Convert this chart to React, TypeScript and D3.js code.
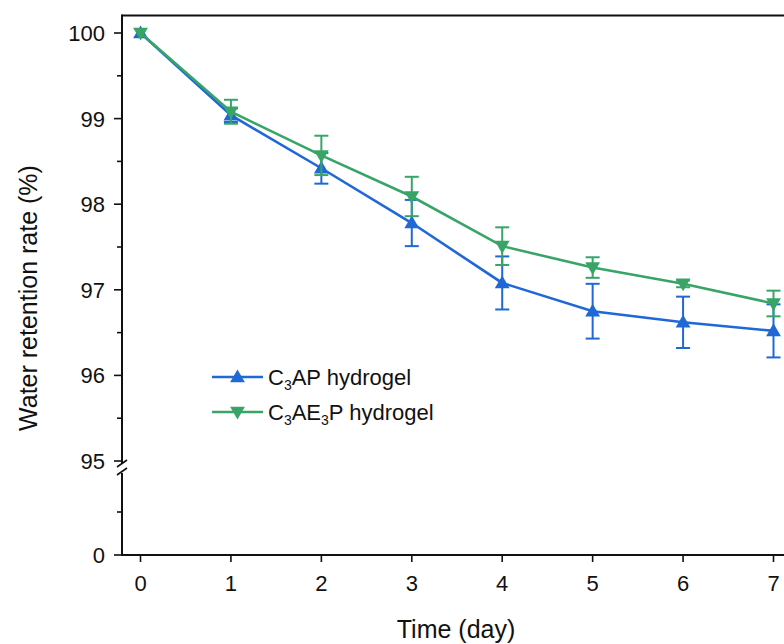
import React from "react";
import * as d3 from "d3";

const days = [0, 1, 2, 3, 4, 5, 6, 7];
const c3apValues = [100, 99.04, 98.42, 97.78, 97.08, 96.75, 96.62, 96.52];
const c3apErrors = [0, 0.08, 0.18, 0.27, 0.31, 0.32, 0.3, 0.31];
const c3ae3pValues = [100, 99.08, 98.57, 98.09, 97.51, 97.26, 97.07, 96.84];
const c3ae3pErrors = [0, 0.14, 0.23, 0.23, 0.22, 0.12, 0.04, 0.15];
const upperTicks = [95, 96, 97, 98, 99, 100];
const upperMinor = [95.5, 96.5, 97.5, 98.5, 99.5];
const lowerTicks = [0];
const lowerMinor = [1];

const W = 784;
const H = 644;
const BLUE = "#1f68d6";
const GREEN = "#38a567";
const FONT = "'Liberation Sans', Arial, sans-serif";
const TICK_FS = 22;
const TITLE_FS = 25;

export default function App() {
  const x = d3.scaleLinear().domain([0, 7]).range([140.5, 773.5]);
  const yU = d3.scaleLinear().domain([95, 100]).range([461, 33]);
  const yL = d3.scaleLinear().domain([0, 2]).range([555, 469]);
  const axisX = 122;
  const top = 15.5;
  const bottom = 555;

  const line = d3
    .line<number>()
    .x((_, i) => x(days[i]))
    .y((v) => yU(v));

  const tri = d3.symbol().type(d3.symbolTriangle).size(95)() as string;

  const series = [
    { name: "C3AP", values: c3apValues, errors: c3apErrors, color: BLUE, down: false },
    { name: "C3AE3P", values: c3ae3pValues, errors: c3ae3pErrors, color: GREEN, down: true },
  ];

  const capW = 7;

  return (
    <svg
      width={W}
      height={H}
      style={{ position: "absolute", left: 0, top: 0, background: "#fff" }}
      fontFamily={FONT}
    >
      {/* top frame */}
      <line x1={axisX} x2={W} y1={top} y2={top} stroke="#111" strokeWidth={2} />
      {/* bottom axis */}
      <line x1={axisX} x2={W} y1={bottom} y2={bottom} stroke="#111" strokeWidth={2} />
      {days.map((d) => (
        <g key={d}>
          <line x1={x(d)} x2={x(d)} y1={bottom} y2={bottom + 7} stroke="#111" strokeWidth={1.6} />
          <text x={x(d)} y={bottom + 36} textAnchor="middle" fontSize={TICK_FS} fill="#111">
            {d}
          </text>
        </g>
      ))}
      {/* left axis upper */}
      <line x1={axisX} x2={axisX} y1={top - 1} y2={yU(95) + 2} stroke="#111" strokeWidth={2} />
      {/* left axis lower */}
      <line x1={axisX} x2={axisX} y1={yU(95) + 12} y2={bottom + 1} stroke="#111" strokeWidth={2} />
      {/* break marks */}
      <line x1={axisX - 5} x2={axisX + 5} y1={yU(95) + 6} y2={yU(95) - 1} stroke="#111" strokeWidth={1.6} />
      <line x1={axisX - 5} x2={axisX + 5} y1={yU(95) + 14} y2={yU(95) + 7} stroke="#111" strokeWidth={1.6} />
      {upperTicks.map((t) => (
        <g key={t}>
          <line x1={axisX - 8} x2={axisX} y1={yU(t)} y2={yU(t)} stroke="#111" strokeWidth={1.6} />
          <text x={axisX - 17} y={yU(t) + 8} textAnchor="end" fontSize={TICK_FS} fill="#111">
            {t}
          </text>
        </g>
      ))}
      {upperMinor.map((t) => (
        <line key={t} x1={axisX - 5} x2={axisX} y1={yU(t)} y2={yU(t)} stroke="#111" strokeWidth={1.6} />
      ))}
      {lowerTicks.map((t) => (
        <g key={"l" + t}>
          <line x1={axisX - 8} x2={axisX} y1={yL(t)} y2={yL(t)} stroke="#111" strokeWidth={1.6} />
          <text x={axisX - 17} y={yL(t) + 8} textAnchor="end" fontSize={TICK_FS} fill="#111">
            {t}
          </text>
        </g>
      ))}
      {lowerMinor.map((t) => (
        <line key={"lm" + t} x1={axisX - 5} x2={axisX} y1={yL(t)} y2={yL(t)} stroke="#111" strokeWidth={1.6} />
      ))}

      {/* series */}
      {series.map((s) => (
        <g key={s.name}>
          <path d={line(s.values) as string} fill="none" stroke={s.color} strokeWidth={2.6} />
          {s.values.map((v, i) =>
            s.errors[i] > 0 ? (
              <g key={i} stroke={s.color} strokeWidth={2}>
                <line x1={x(days[i])} x2={x(days[i])} y1={yU(v - s.errors[i])} y2={yU(v + s.errors[i])} />
                <line x1={x(days[i]) - capW} x2={x(days[i]) + capW} y1={yU(v + s.errors[i])} y2={yU(v + s.errors[i])} />
                <line x1={x(days[i]) - capW} x2={x(days[i]) + capW} y1={yU(v - s.errors[i])} y2={yU(v - s.errors[i])} />
              </g>
            ) : null
          )}
          {s.values.map((v, i) => (
            <path
              key={"m" + i}
              d={tri}
              fill={s.color}
              transform={`translate(${x(days[i])},${yU(v) + (s.down ? -1 : 1)}) rotate(${s.down ? 180 : 0})`}
            />
          ))}
        </g>
      ))}

      {/* legend */}
      <g>
        <line x1={212} x2={263} y1={377} y2={377} stroke={BLUE} strokeWidth={2.6} />
        <path d={tri} fill={BLUE} transform="translate(237.5,378)" />
        <text x={268} y={385} fontSize={TICK_FS} fill="#111">
          C<tspan fontSize={14} dy={5}>3</tspan>
          <tspan dy={-5}>AP hydrogel</tspan>
        </text>
        <line x1={212} x2={263} y1={412} y2={412} stroke={GREEN} strokeWidth={2.6} />
        <path d={tri} fill={GREEN} transform="translate(237.5,411) rotate(180)" />
        <text x={268} y={420} fontSize={TICK_FS} fill="#111">
          C<tspan fontSize={14} dy={5}>3</tspan>
          <tspan dy={-5}>AE</tspan>
          <tspan fontSize={14} dy={5}>3</tspan>
          <tspan dy={-5}>P hydrogel</tspan>
        </text>
      </g>

      {/* axis titles */}
      <text x={456} y={638} textAnchor="middle" fontSize={TITLE_FS} fill="#111">
        Time (day)
      </text>
      <text
        transform={`translate(37,${298}) rotate(-90)`}
        textAnchor="middle"
        fontSize={TITLE_FS}
        fill="#111"
      >
        Water retention rate (%)
      </text>
    </svg>
  );
}
